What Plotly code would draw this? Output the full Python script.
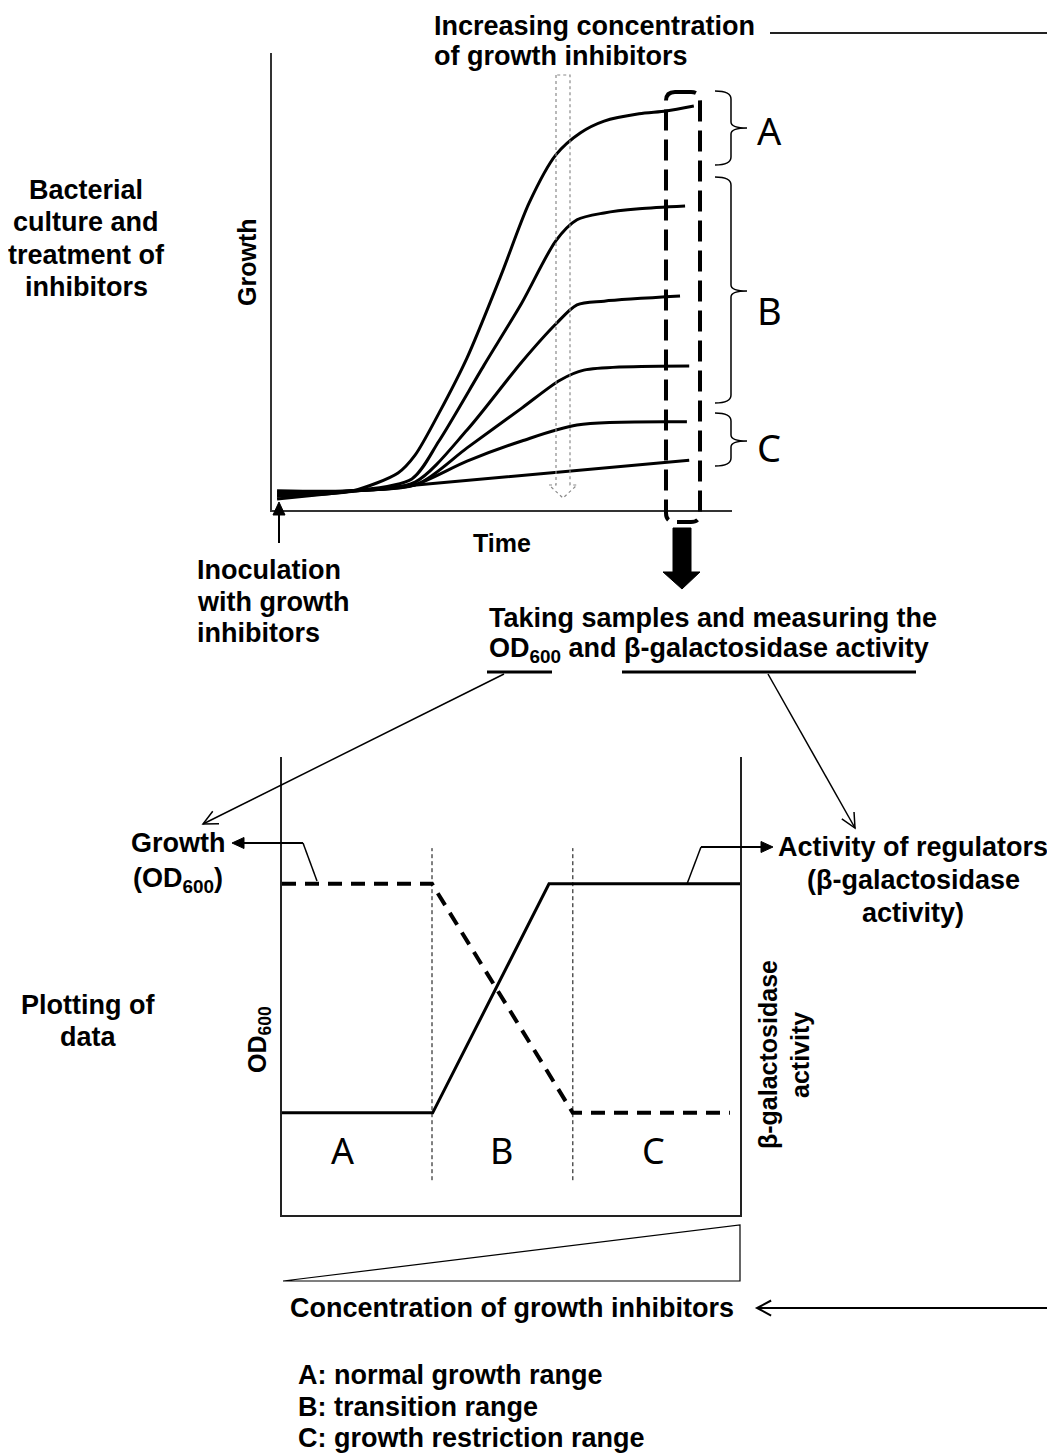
import math
import plotly.graph_objects as go

W, H = 1055, 1454
OFF = 8  # default page body margin
FONT = "Liberation Sans"
LETTER_FONT = "Noto Sans"

# ---------------- data ----------------
# Top panel: growth curves (time 0-10, growth 0-100), highest to lowest
time_A = [0.11, 0.83, 1.76, 2.74, 3.11, 3.63, 4.24, 4.98, 5.59, 6.17, 6.70, 7.22, 7.98, 8.57, 9.17]
growth_A = [3.1, 3.3, 4.2, 8.1, 12.0, 21.2, 33.3, 51.4, 67.2, 77.7, 82.5, 85.1, 86.7, 87.3, 88.4]
time_B1 = [0.11, 1.76, 3.04, 3.63, 4.61, 5.43, 6.17, 6.63, 7.22, 7.98, 8.98]
growth_B1 = [3.5, 4.2, 6.8, 15.1, 31.7, 45.3, 58.9, 63.5, 65.0, 65.9, 66.5]
time_B2 = [0.11, 1.76, 3.11, 4.24, 5.43, 6.17, 6.63, 7.22, 8.87]
growth_B2 = [3.9, 4.2, 6.1, 17.5, 32.4, 40.7, 44.9, 45.7, 46.8]
time_B3 = [0.11, 1.76, 3.17, 4.24, 5.43, 6.26, 6.78, 9.07]
growth_B3 = [4.2, 4.2, 5.7, 13.6, 22.3, 28.4, 30.6, 31.5]
time_C1 = [0.11, 1.76, 3.04, 4.24, 5.43, 6.63, 9.02]
growth_C1 = [3.0, 4.2, 5.3, 10.7, 15.1, 18.6, 19.3]
time_C2 = [0.11, 2.96, 9.07]
growth_C2 = [2.4, 5.3, 10.9]

# Bottom panel: concentration (0-100) vs OD600 and beta-gal activity (0-100)
conc_od = [0, 32.75, 63.5, 97.8]
od600 = [72.3, 72.3, 22.3, 22.3]
conc_bgal = [0, 32.9, 58.3, 100]
bgal = [22.3, 22.3, 72.3, 72.3]
range_bounds = [32.75, 63.5]
range_labels = ["A", "B", "C"]
legend_lines = ["A: normal growth range", "B: transition range", "C: growth restriction range"]

FW, FH = W - OFF, H - OFF


def X(px):
    return (px - OFF) / FW


def Y(py):
    return 1 - (py - OFF) / FH


def P(x, y):
    return f"{X(x):.5f},{Y(y):.5f}"


fig = go.Figure()

for t, g in [(time_A, growth_A), (time_B1, growth_B1), (time_B2, growth_B2),
             (time_B3, growth_B3), (time_C1, growth_C1), (time_C2, growth_C2)]:
    fig.add_trace(go.Scatter(x=t, y=g, mode="lines", xaxis="x", yaxis="y",
                             line=dict(color="black", width=3, shape="spline", smoothing=0.8),
                             hoverinfo="skip", showlegend=False))

fig.add_trace(go.Scatter(x=conc_od, y=od600, mode="lines", xaxis="x2", yaxis="y2",
                         line=dict(color="black", width=4, dash="14px,9px"),
                         hoverinfo="skip", showlegend=False))
fig.add_trace(go.Scatter(x=conc_bgal, y=bgal, mode="lines", xaxis="x2", yaxis="y2",
                         line=dict(color="black", width=3),
                         hoverinfo="skip", showlegend=False))

shapes = []
annotations = []


def line_px(x0, y0, x1, y1, width=1.5, color="black", dash=None):
    ln = dict(color=color, width=width)
    if dash:
        ln["dash"] = dash
    shapes.append(dict(type="line", xref="paper", yref="paper", x0=X(x0), y0=Y(y0),
                       x1=X(x1), y1=Y(y1), line=ln, layer="above"))


def path_px(d, width=1.5, color="black", fill=None, dash=None):
    ln = dict(color=color, width=width)
    if dash:
        ln["dash"] = dash
    s = dict(type="path", xref="paper", yref="paper", path=d, line=ln, layer="above")
    if fill:
        s["fillcolor"] = fill
    shapes.append(s)


def open_arrow(x0, y0, x1, y1, L=16, ang=26, width=1.5):
    line_px(x0, y0, x1, y1, width=width)
    dx, dy = x1 - x0, y1 - y0
    n = math.hypot(dx, dy)
    bx, by = -dx / n, -dy / n
    a = math.radians(ang)
    p1 = (x1 + L * (bx * math.cos(a) - by * math.sin(a)), y1 + L * (bx * math.sin(a) + by * math.cos(a)))
    p2 = (x1 + L * (bx * math.cos(-a) - by * math.sin(-a)), y1 + L * (bx * math.sin(-a) + by * math.cos(-a)))
    path_px(f"M{P(*p1)} L{P(x1, y1)} L{P(*p2)}", width=width)


def filled_arrow(x0, y0, x1, y1, L=12, hw=5.5, width=1.8):
    dx, dy = x1 - x0, y1 - y0
    n = math.hypot(dx, dy)
    ux, uy = dx / n, dy / n
    bx, by = x1 - L * ux, y1 - L * uy
    line_px(x0, y0, bx + ux, by + uy, width=width)
    px_, py_ = -uy, ux
    path_px(f"M{P(x1, y1)} L{P(bx + hw * px_, by + hw * py_)} L{P(bx - hw * px_, by - hw * py_)} Z",
            width=1, fill="black")


def text(x, y, s, size=27, xanchor="center", angle=0, bold=True, family=FONT):
    annotations.append(dict(x=X(x), y=Y(y), xref="paper", yref="paper", text=(f"<b>{s}</b>" if bold else s),
                            showarrow=False, xanchor=xanchor, yanchor="middle", textangle=angle,
                            align="left" if xanchor == "left" else "center",
                            font=dict(family=family, size=size, color="black")))


# ---- top panel decorations ----
# dashed sampling box (rounded)
x0, x1, y0, y1, r = 666, 700, 92, 522, 9
path_px(f"M{P(x0 + r, y0)} L{P(x1 - r, y0)} Q{P(x1, y0)} {P(x1, y0 + r)} L{P(x1, y1 - r)} "
        f"Q{P(x1, y1)} {P(x1 - r, y1)} L{P(x0 + r, y1)} Q{P(x0, y1)} {P(x0, y1 - r)} "
        f"L{P(x0, y0 + r)} Q{P(x0, y0)} {P(x0 + r, y0)} Z", width=4, dash="21px,9px")


def brace(yt, yb, ym, xl=715, xv=731, xt=747):
    path_px(f"M{P(xl, yt)} Q{P(xv, yt)} {P(xv, yt + 8)} L{P(xv, ym - 6)} Q{P(xv, ym)} {P(xt, ym)} "
            f"Q{P(xv, ym)} {P(xv, ym + 6)} L{P(xv, yb - 8)} Q{P(xv, yb)} {P(xl, yb)}", width=1.5)


brace(91, 165, 128)
brace(177, 403, 291)
brace(413, 466, 441)
text(769, 130, "A", size=38, bold=False, family=LETTER_FONT)
text(769, 310, "B", size=38, bold=False, family=LETTER_FONT)
text(769, 447, "C", size=38, bold=False, family=LETTER_FONT)

# hollow dotted gray arrow
path_px(f"M{P(556, 75)} L{P(556, 485)} L{P(549, 485)} L{P(563, 498)} L{P(577, 485)} "
        f"L{P(570, 485)} L{P(570, 75)} Z", width=1.2, color="#8a8a8a", dash="dot")

# thick black arrow down
path_px(f"M{P(673, 528)} L{P(691, 528)} L{P(691, 572)} L{P(700, 572)} L{P(682, 589)} "
        f"L{P(663, 572)} L{P(673, 572)} Z", width=1, fill="black")

# inoculation arrow
filled_arrow(279, 543, 279, 502, L=13, hw=6, width=2)

# top-right connector line
line_px(770, 33, 1055, 33, width=2, color="#222")

# texts top
text(432, 26, "Increasing concentration", xanchor="left")
text(432, 56, "of growth inhibitors", xanchor="left")
for yy, s in zip([190, 222, 255, 287], ["Bacterial", "culture and", "treatment of", "inhibitors"]):
    text(86, yy, s)
text(247, 262, "Growth", size=25, angle=-90)
text(502, 543, "Time", size=25)
for yy, s in zip([570, 602, 633], ["Inoculation", "with growth", "inhibitors"]):
    text(195, yy, s, xanchor="left")
text(487, 618, "Taking samples and measuring the", xanchor="left")
text(487, 650, "OD<sub>600</sub> and β-galactosidase activity", xanchor="left")
line_px(487, 672, 552, 672, width=3)
line_px(622, 672, 916, 672, width=3)

# arrows from underlines
open_arrow(504, 674, 203, 824)
open_arrow(768, 674, 855, 828)

# ---- bottom panel decorations ----
for b in range_bounds:
    shapes.append(dict(type="line", xref="x2", yref="y2", x0=b, x1=b, y0=7.6, y1=80.1,
                       line=dict(color="black", width=1, dash="4px,3px"), layer="above"))
for xx, lab in zip([342, 501, 653], range_labels):
    text(xx, 1150, lab, size=36, bold=False, family=LETTER_FONT)

text(178, 843, "Growth")
text(178, 880, "(OD<sub>600</sub>)")
path_px(f"M{P(317, 881)} L{P(303, 843)}", width=1.5)
filled_arrow(303, 843, 232, 843, L=12, hw=5.5, width=1.8)

text(913, 847, "Activity of regulators")
text(913, 880, "(β-galactosidase")
text(913, 913, "activity)")
path_px(f"M{P(687, 884)} L{P(701, 847)}", width=1.5)
filled_arrow(701, 847, 773, 847, L=12, hw=5.5, width=1.8)

text(88, 1005, "Plotting of")
text(88, 1037, "data")
text(259, 1040, "OD<sub>600</sub>", size=25, angle=-90)
text(768, 1055, "β-galactosidase", size=25, angle=-90)
text(800, 1055, "activity", size=25, angle=-90)

# concentration wedge
path_px(f"M{P(283, 1281)} L{P(740, 1225)} L{P(740, 1281)} Z", width=1.2)
text(512, 1308, "Concentration of growth inhibitors")
open_arrow(1055, 1308, 757, 1308, L=16, ang=28, width=2)

for yy, s in zip([1375, 1407, 1438], legend_lines):
    text(296, yy, s, xanchor="left")

axis_common = dict(showgrid=False, zeroline=False, showticklabels=False, ticks="",
                   fixedrange=True)
fig.update_layout(
    width=FW, height=FH, margin=dict(l=0, r=0, t=0, b=0),
    paper_bgcolor="white", plot_bgcolor="white", showlegend=False,
    xaxis=dict(domain=[X(272), X(732)], range=[0, 10], anchor="y",
               showline=True, linecolor="#333", linewidth=2, **axis_common),
    yaxis=dict(domain=[Y(510), Y(53)], range=[0, 100], anchor="x",
               showline=True, linecolor="#333", linewidth=2, **axis_common),
    xaxis2=dict(domain=[X(282), X(740)], range=[0, 100], anchor="y2",
                showline=True, linecolor="#222", linewidth=1.5, **axis_common),
    yaxis2=dict(domain=[Y(1215), Y(757)], range=[0, 100], anchor="x2",
                showline=True, mirror=True, linecolor="#222", linewidth=1.5, **axis_common),
    shapes=shapes, annotations=annotations,
)

fig.write_html("out.html")
